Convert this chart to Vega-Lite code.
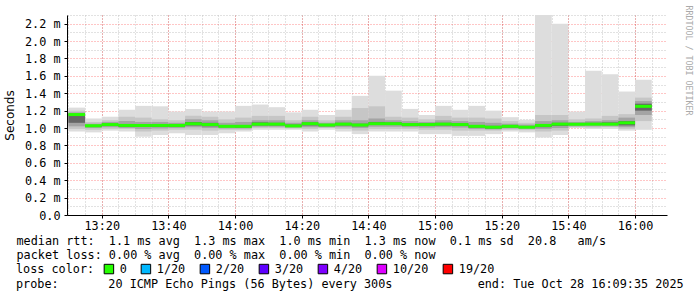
{
  "$schema": "https://vega.github.io/schema/vega-lite/v6.json",
  "width": 600,
  "height": 200,
  "autosize": {"type": "none"},
  "padding": {"left": 67, "top": 15, "right": 30, "bottom": 82},
  "background": "#ffffff",
  "config": {"view": {"stroke": null}, "font": "DejaVu Sans Mono"},
  "title": {
    "text": "probe:\u00a0\u00a0\u00a0\u00a0\u00a0\u00a0\u00a020\u00a0ICMP\u00a0Echo\u00a0Pings\u00a0(56\u00a0Bytes)\u00a0every\u00a0300s\u00a0\u00a0\u00a0\u00a0\u00a0\u00a0\u00a0\u00a0\u00a0\u00a0\u00a0\u00a0end:\u00a0Tue\u00a0Oct\u00a028\u00a016:09:35\u00a02025",
    "orient": "bottom", "anchor": "start", "frame": "group", "offset": 3, "dx": -51,
    "font": "DejaVu Sans Mono", "fontSize": 11.8, "fontWeight": "normal", "color": "#000000", "baseline": "top"
  },
  "data": {
    "format": {"parse": {"t": "date", "te": "date", "tm": "date"}},
    "values": [
      {"t": "2025-10-28T13:10:00", "te": "2025-10-28T13:15:00", "tm": "2025-10-28T13:12:30", "min": 0.96, "lo2": 0.99, "lo3": 1.02, "lo4": 1.06, "med": 1.155, "hi4": 1.165, "hi3": 1.18, "hi2": 1.2, "max": 1.235, "loss": "0"},
      {"t": "2025-10-28T13:15:00", "te": "2025-10-28T13:20:00", "tm": "2025-10-28T13:17:30", "min": 0.95, "lo2": 0.98, "lo3": 1.0, "lo4": 1.015, "med": 1.025, "hi4": 1.035, "hi3": 1.05, "hi2": 1.07, "max": 1.11, "loss": "0"},
      {"t": "2025-10-28T13:20:00", "te": "2025-10-28T13:25:00", "tm": "2025-10-28T13:22:30", "min": 0.97, "lo2": 0.99, "lo3": 1.01, "lo4": 1.025, "med": 1.04, "hi4": 1.05, "hi3": 1.07, "hi2": 1.09, "max": 1.13, "loss": "0"},
      {"t": "2025-10-28T13:25:00", "te": "2025-10-28T13:30:00", "tm": "2025-10-28T13:27:30", "min": 0.96, "lo2": 0.99, "lo3": 1.0, "lo4": 1.015, "med": 1.03, "hi4": 1.045, "hi3": 1.08, "hi2": 1.13, "max": 1.21, "loss": "0"},
      {"t": "2025-10-28T13:30:00", "te": "2025-10-28T13:35:00", "tm": "2025-10-28T13:32:30", "min": 0.9, "lo2": 0.96, "lo3": 0.99, "lo4": 1.015, "med": 1.03, "hi4": 1.045, "hi3": 1.07, "hi2": 1.12, "max": 1.255, "loss": "0"},
      {"t": "2025-10-28T13:35:00", "te": "2025-10-28T13:40:00", "tm": "2025-10-28T13:37:30", "min": 0.92, "lo2": 0.97, "lo3": 0.995, "lo4": 1.015, "med": 1.03, "hi4": 1.045, "hi3": 1.07, "hi2": 1.1, "max": 1.25, "loss": "0"},
      {"t": "2025-10-28T13:40:00", "te": "2025-10-28T13:45:00", "tm": "2025-10-28T13:42:30", "min": 0.94, "lo2": 0.98, "lo3": 1.0, "lo4": 1.015, "med": 1.03, "hi4": 1.04, "hi3": 1.06, "hi2": 1.09, "max": 1.19, "loss": "0"},
      {"t": "2025-10-28T13:45:00", "te": "2025-10-28T13:50:00", "tm": "2025-10-28T13:47:30", "min": 0.92, "lo2": 0.98, "lo3": 1.01, "lo4": 1.03, "med": 1.05, "hi4": 1.07, "hi3": 1.1, "hi2": 1.14, "max": 1.22, "loss": "0"},
      {"t": "2025-10-28T13:50:00", "te": "2025-10-28T13:55:00", "tm": "2025-10-28T13:52:30", "min": 0.92, "lo2": 0.97, "lo3": 1.0, "lo4": 1.02, "med": 1.04, "hi4": 1.06, "hi3": 1.09, "hi2": 1.13, "max": 1.19, "loss": "0"},
      {"t": "2025-10-28T13:55:00", "te": "2025-10-28T14:00:00", "tm": "2025-10-28T13:57:30", "min": 0.94, "lo2": 0.98, "lo3": 0.995, "lo4": 1.01, "med": 1.02, "hi4": 1.035, "hi3": 1.06, "hi2": 1.1, "max": 1.19, "loss": "0"},
      {"t": "2025-10-28T14:00:00", "te": "2025-10-28T14:05:00", "tm": "2025-10-28T14:02:30", "min": 0.96, "lo2": 0.98, "lo3": 0.995, "lo4": 1.005, "med": 1.02, "hi4": 1.035, "hi3": 1.07, "hi2": 1.12, "max": 1.255, "loss": "0"},
      {"t": "2025-10-28T14:05:00", "te": "2025-10-28T14:10:00", "tm": "2025-10-28T14:07:30", "min": 0.98, "lo2": 1.0, "lo3": 1.015, "lo4": 1.03, "med": 1.045, "hi4": 1.065, "hi3": 1.09, "hi2": 1.14, "max": 1.27, "loss": "0"},
      {"t": "2025-10-28T14:10:00", "te": "2025-10-28T14:15:00", "tm": "2025-10-28T14:12:30", "min": 0.98, "lo2": 1.0, "lo3": 1.015, "lo4": 1.03, "med": 1.045, "hi4": 1.06, "hi3": 1.09, "hi2": 1.14, "max": 1.24, "loss": "0"},
      {"t": "2025-10-28T14:15:00", "te": "2025-10-28T14:20:00", "tm": "2025-10-28T14:17:30", "min": 0.98, "lo2": 0.995, "lo3": 1.005, "lo4": 1.015, "med": 1.025, "hi4": 1.04, "hi3": 1.06, "hi2": 1.09, "max": 1.18, "loss": "0"},
      {"t": "2025-10-28T14:20:00", "te": "2025-10-28T14:25:00", "tm": "2025-10-28T14:22:30", "min": 0.96, "lo2": 0.99, "lo3": 1.01, "lo4": 1.03, "med": 1.05, "hi4": 1.065, "hi3": 1.09, "hi2": 1.13, "max": 1.21, "loss": "0"},
      {"t": "2025-10-28T14:25:00", "te": "2025-10-28T14:30:00", "tm": "2025-10-28T14:27:30", "min": 0.98, "lo2": 1.0, "lo3": 1.01, "lo4": 1.02, "med": 1.035, "hi4": 1.045, "hi3": 1.06, "hi2": 1.09, "max": 1.15, "loss": "0"},
      {"t": "2025-10-28T14:30:00", "te": "2025-10-28T14:35:00", "tm": "2025-10-28T14:32:30", "min": 0.96, "lo2": 0.99, "lo3": 1.01, "lo4": 1.03, "med": 1.045, "hi4": 1.06, "hi3": 1.09, "hi2": 1.13, "max": 1.21, "loss": "0"},
      {"t": "2025-10-28T14:35:00", "te": "2025-10-28T14:40:00", "tm": "2025-10-28T14:37:30", "min": 0.93, "lo2": 0.97, "lo3": 1.0, "lo4": 1.02, "med": 1.035, "hi4": 1.05, "hi3": 1.09, "hi2": 1.23, "max": 1.37, "loss": "0"},
      {"t": "2025-10-28T14:40:00", "te": "2025-10-28T14:45:00", "tm": "2025-10-28T14:42:30", "min": 0.96, "lo2": 0.99, "lo3": 1.015, "lo4": 1.035, "med": 1.05, "hi4": 1.07, "hi3": 1.11, "hi2": 1.25, "max": 1.6, "loss": "0"},
      {"t": "2025-10-28T14:45:00", "te": "2025-10-28T14:50:00", "tm": "2025-10-28T14:47:30", "min": 0.96, "lo2": 0.99, "lo3": 1.015, "lo4": 1.035, "med": 1.05, "hi4": 1.065, "hi3": 1.09, "hi2": 1.13, "max": 1.43, "loss": "0"},
      {"t": "2025-10-28T14:50:00", "te": "2025-10-28T14:55:00", "tm": "2025-10-28T14:52:30", "min": 0.96, "lo2": 0.99, "lo3": 1.01, "lo4": 1.025, "med": 1.04, "hi4": 1.055, "hi3": 1.08, "hi2": 1.12, "max": 1.22, "loss": "0"},
      {"t": "2025-10-28T14:55:00", "te": "2025-10-28T15:00:00", "tm": "2025-10-28T14:57:30", "min": 0.93, "lo2": 0.98, "lo3": 1.005, "lo4": 1.025, "med": 1.04, "hi4": 1.055, "hi3": 1.07, "hi2": 1.1, "max": 1.15, "loss": "0"},
      {"t": "2025-10-28T15:00:00", "te": "2025-10-28T15:05:00", "tm": "2025-10-28T15:02:30", "min": 0.93, "lo2": 0.98, "lo3": 1.01, "lo4": 1.03, "med": 1.045, "hi4": 1.06, "hi3": 1.09, "hi2": 1.14, "max": 1.255, "loss": "0"},
      {"t": "2025-10-28T15:05:00", "te": "2025-10-28T15:10:00", "tm": "2025-10-28T15:07:30", "min": 0.91, "lo2": 0.97, "lo3": 1.005, "lo4": 1.025, "med": 1.04, "hi4": 1.055, "hi3": 1.08, "hi2": 1.12, "max": 1.21, "loss": "0"},
      {"t": "2025-10-28T15:10:00", "te": "2025-10-28T15:15:00", "tm": "2025-10-28T15:12:30", "min": 0.91, "lo2": 0.97, "lo3": 0.99, "lo4": 1.005, "med": 1.02, "hi4": 1.035, "hi3": 1.07, "hi2": 1.12, "max": 1.255, "loss": "0"},
      {"t": "2025-10-28T15:15:00", "te": "2025-10-28T15:20:00", "tm": "2025-10-28T15:17:30", "min": 0.93, "lo2": 0.97, "lo3": 0.985, "lo4": 0.995, "med": 1.01, "hi4": 1.025, "hi3": 1.06, "hi2": 1.11, "max": 1.2, "loss": "0"},
      {"t": "2025-10-28T15:20:00", "te": "2025-10-28T15:25:00", "tm": "2025-10-28T15:22:30", "min": 0.96, "lo2": 0.98, "lo3": 0.995, "lo4": 1.005, "med": 1.02, "hi4": 1.03, "hi3": 1.05, "hi2": 1.08, "max": 1.125, "loss": "0"},
      {"t": "2025-10-28T15:25:00", "te": "2025-10-28T15:30:00", "tm": "2025-10-28T15:27:30", "min": 0.95, "lo2": 0.975, "lo3": 0.99, "lo4": 1.0, "med": 1.01, "hi4": 1.02, "hi3": 1.04, "hi2": 1.06, "max": 1.095, "loss": "0"},
      {"t": "2025-10-28T15:30:00", "te": "2025-10-28T15:35:00", "tm": "2025-10-28T15:32:30", "min": 0.89, "lo2": 0.96, "lo3": 0.99, "lo4": 1.01, "med": 1.03, "hi4": 1.045, "hi3": 1.08, "hi2": 1.15, "max": 2.3, "loss": "0"},
      {"t": "2025-10-28T15:35:00", "te": "2025-10-28T15:40:00", "tm": "2025-10-28T15:37:30", "min": 0.92, "lo2": 0.97, "lo3": 1.0, "lo4": 1.025, "med": 1.045, "hi4": 1.06, "hi3": 1.09, "hi2": 1.15, "max": 2.2, "loss": "0"},
      {"t": "2025-10-28T15:40:00", "te": "2025-10-28T15:45:00", "tm": "2025-10-28T15:42:30", "min": 1.0, "lo2": 1.01, "lo3": 1.02, "lo4": 1.035, "med": 1.045, "hi4": 1.055, "hi3": 1.07, "hi2": 1.1, "max": 1.19, "loss": "0"},
      {"t": "2025-10-28T15:45:00", "te": "2025-10-28T15:50:00", "tm": "2025-10-28T15:47:30", "min": 0.99, "lo2": 1.005, "lo3": 1.02, "lo4": 1.035, "med": 1.045, "hi4": 1.06, "hi3": 1.08, "hi2": 1.11, "max": 1.66, "loss": "0"},
      {"t": "2025-10-28T15:50:00", "te": "2025-10-28T15:55:00", "tm": "2025-10-28T15:52:30", "min": 0.99, "lo2": 1.01, "lo3": 1.02, "lo4": 1.035, "med": 1.045, "hi4": 1.065, "hi3": 1.09, "hi2": 1.14, "max": 1.62, "loss": "0"},
      {"t": "2025-10-28T15:55:00", "te": "2025-10-28T16:00:00", "tm": "2025-10-28T15:57:30", "min": 0.97, "lo2": 0.99, "lo3": 1.01, "lo4": 1.03, "med": 1.06, "hi4": 1.08, "hi3": 1.12, "hi2": 1.16, "max": 1.42, "loss": "0"},
      {"t": "2025-10-28T16:00:00", "te": "2025-10-28T16:05:00", "tm": "2025-10-28T16:02:30", "min": 0.98, "lo2": 1.08, "lo3": 1.15, "lo4": 1.2, "med": 1.25, "hi4": 1.28, "hi3": 1.31, "hi2": 1.35, "max": 1.555, "loss": "0"}
    ]
  },
  "resolve": {"axis": {"x": "independent", "y": "independent"}},
  "layer": [
    {
      "mark": {"type": "rect", "color": "#dddddd"},
      "encoding": {
        "x": {"field": "t", "type": "temporal",
          "scale": {"domain": [{"year": 2025, "month": 10, "date": 28, "hours": 13, "minutes": 9, "seconds": 35}, {"year": 2025, "month": 10, "date": 28, "hours": 16, "minutes": 9, "seconds": 35}], "nice": false},
          "axis": {"orient": "bottom", "tickCount": 36, "labels": false, "ticks": false, "domain": false, "grid": true, "gridColor": "#c4c4c4", "gridDash": [1, 2], "gridWidth": 1, "title": null}},
        "x2": {"field": "te"},
        "y": {"field": "min", "type": "quantitative",
          "scale": {"domain": [0, 2.3], "nice": false, "zero": false},
          "axis": {"orient": "left", "values": [0.1, 0.3, 0.5, 0.7, 0.9, 1.1, 1.3, 1.5, 1.7, 1.9, 2.1, 2.3], "labels": false, "ticks": false, "domain": false, "grid": true, "gridColor": "#c4c4c4", "gridDash": [1, 2], "gridWidth": 1, "title": null}},
        "y2": {"field": "max"}
      }
    },
    {
      "mark": {"type": "rect", "color": "#c6c6c6"},
      "encoding": {
        "x": {"field": "t", "type": "temporal",
          "axis": {"orient": "bottom",
            "values": [
              {"year": 2025, "month": 10, "date": 28, "hours": 13, "minutes": 20},
              {"year": 2025, "month": 10, "date": 28, "hours": 13, "minutes": 40},
              {"year": 2025, "month": 10, "date": 28, "hours": 14, "minutes": 0},
              {"year": 2025, "month": 10, "date": 28, "hours": 14, "minutes": 20},
              {"year": 2025, "month": 10, "date": 28, "hours": 14, "minutes": 40},
              {"year": 2025, "month": 10, "date": 28, "hours": 15, "minutes": 0},
              {"year": 2025, "month": 10, "date": 28, "hours": 15, "minutes": 20},
              {"year": 2025, "month": 10, "date": 28, "hours": 15, "minutes": 40},
              {"year": 2025, "month": 10, "date": 28, "hours": 16, "minutes": 0}
            ],
            "format": "%H:%M", "labelFlush": false,
            "labelFont": "DejaVu Sans Mono", "labelFontSize": 11.8, "labelColor": "#000000", "labelPadding": 2,
            "ticks": true, "tickSize": 3, "tickColor": "#000000", "domain": true, "domainColor": "#000000", "domainWidth": 1,
            "grid": true, "gridColor": "#ff0000", "gridOpacity": 0.45, "gridDash": [1, 2], "gridWidth": 1,
            "title": ["median\u00a0rtt:\u00a0\u00a01.1\u00a0ms\u00a0avg\u00a0\u00a01.3\u00a0ms\u00a0max\u00a0\u00a01.0\u00a0ms\u00a0min\u00a0\u00a01.3\u00a0ms\u00a0now\u00a0\u00a00.1\u00a0ms\u00a0sd\u00a0\u00a020.8\u00a0\u00a0\u00a0am/s",
                      "packet\u00a0loss:\u00a00.00\u00a0%\u00a0avg\u00a0\u00a00.00\u00a0%\u00a0max\u00a0\u00a00.00\u00a0%\u00a0min\u00a0\u00a00.00\u00a0%\u00a0now"],
            "titleFont": "DejaVu Sans Mono", "titleFontSize": 11.8, "titleFontWeight": "normal", "titleColor": "#000000",
            "titleAlign": "left", "titleBaseline": "top", "titleX": -51, "titleY": 20, "titleLineHeight": 14.5}},
        "x2": {"field": "te"},
        "y": {"field": "lo2", "type": "quantitative",
          "axis": {"orient": "left", "values": [0, 0.2, 0.4, 0.6, 0.8, 1.0, 1.2, 1.4, 1.6, 1.8, 2.0, 2.2],
            "labelExpr": "datum.value == 0 ? '0.0  ' : format(datum.value, '.1f') + ' m'",
            "labelFont": "DejaVu Sans Mono", "labelFontSize": 11.8, "labelColor": "#000000", "labelPadding": 4,
            "ticks": true, "tickSize": 3, "tickColor": "#000000", "domain": true, "domainColor": "#000000", "domainWidth": 1,
            "grid": true, "gridColor": "#ff0000", "gridOpacity": 0.45, "gridDash": [1, 2], "gridWidth": 1,
            "title": "Seconds", "titleFont": "DejaVu Sans", "titleFontSize": 12, "titleFontWeight": "normal", "titleColor": "#000000", "titlePadding": 8}},
        "y2": {"field": "hi2"}
      }
    },
    {
      "mark": {"type": "rect", "color": "#a4a4a4"},
      "encoding": {
        "x": {"field": "t", "type": "temporal", "axis": null},
        "x2": {"field": "te"},
        "y": {"field": "lo3", "type": "quantitative", "axis": null},
        "y2": {"field": "hi3"}
      }
    },
    {
      "mark": {"type": "rect", "color": "#666666"},
      "encoding": {
        "x": {"field": "t", "type": "temporal", "axis": null},
        "x2": {"field": "te"},
        "y": {"field": "lo4", "type": "quantitative", "axis": null},
        "y2": {"field": "hi4"}
      }
    },
    {
      "mark": {"type": "tick", "orient": "horizontal", "thickness": 3, "size": 16.7, "opacity": 1},
      "encoding": {
        "x": {"field": "tm", "type": "temporal", "axis": null},
        "y": {"field": "med", "type": "quantitative",
          "axis": {"orient": "right", "labels": false, "ticks": false, "domain": false, "grid": false,
            "title": "RRDTOOL / TOBI OETIKER", "titleAngle": 90, "titleFont": "DejaVu Sans Mono", "titleFontSize": 8.3,
            "titleFontWeight": "normal", "titleColor": "#aaaaaa", "titleX": 20, "titleY": -10, "titleAlign": "left", "titleBaseline": "middle"}},
        "color": {"field": "loss", "type": "nominal",
          "scale": {"domain": ["0", "1/20", "2/20", "3/20", "4/20", "10/20", "19/20"], "range": ["#26ff00", "#00b8ff", "#0059ff", "#5e00ff", "#7e00ff", "#dd00ff", "#ff0000"]},
          "legend": {"title": "loss color:", "orient": "none", "legendX": -51, "legendY": 248, "direction": "horizontal",
            "titleOrient": "left", "titleFont": "DejaVu Sans Mono", "titleFontSize": 11.8, "titleFontWeight": "normal", "titleColor": "#000000", "titlePadding": 8,
            "labelFont": "DejaVu Sans Mono", "labelFontSize": 11.8, "labelColor": "#000000", "labelOffset": 5,
            "symbolType": "square", "symbolSize": 90, "symbolOpacity": 1, "symbolStrokeColor": "#000000", "symbolStrokeWidth": 1, "columnPadding": 12}}
      }
    }
  ]
}
